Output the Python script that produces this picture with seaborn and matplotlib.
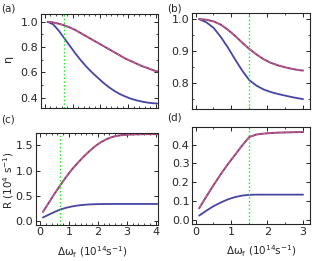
import numpy as np
import pandas as pd
import matplotlib
matplotlib.use('Agg')
import matplotlib.pyplot as plt
import seaborn as sns
from matplotlib.ticker import MultipleLocator, FormatStrFormatter

# panel (a) / (c) frequency grid
x_ac = [0.1, 0.3, 0.5, 0.7, 0.9, 1.1, 1.3, 1.5, 1.7, 1.9, 2.1, 2.3, 2.5, 2.7, 2.9, 3.1, 3.3, 3.5, 3.7, 3.9, 4.05]
eta_a_blue = [1.0, 0.98, 0.93, 0.87, 0.81, 0.75, 0.695, 0.645, 0.6, 0.56, 0.52, 0.485, 0.455, 0.43, 0.41, 0.393, 0.38, 0.37, 0.362, 0.357, 0.355]
eta_a_red = [1.0, 0.995, 0.985, 0.972, 0.955, 0.935, 0.91, 0.885, 0.86, 0.835, 0.81, 0.785, 0.76, 0.735, 0.71, 0.69, 0.67, 0.65, 0.635, 0.618, 0.608]
R_c_red = [0.18, 0.36, 0.54, 0.71, 0.87, 1.02, 1.15, 1.27, 1.38, 1.48, 1.56, 1.62, 1.665, 1.69, 1.705, 1.712, 1.716, 1.718, 1.72, 1.72, 1.72]
R_c_blue = [0.07, 0.125, 0.18, 0.228, 0.262, 0.288, 0.307, 0.32, 0.328, 0.333, 0.336, 0.337, 0.338, 0.338, 0.338, 0.338, 0.338, 0.338, 0.338, 0.338, 0.338]

# panel (b) / (d) frequency grid
x_bd = [0.1, 0.3, 0.5, 0.7, 0.9, 1.1, 1.3, 1.5, 1.7, 1.9, 2.1, 2.3, 2.5, 2.7, 2.9, 3.0]
eta_b_blue = [1.0, 0.99, 0.973, 0.945, 0.912, 0.875, 0.84, 0.81, 0.793, 0.781, 0.773, 0.767, 0.762, 0.757, 0.753, 0.751]
eta_b_red = [1.0, 0.998, 0.993, 0.983, 0.967, 0.948, 0.927, 0.907, 0.89, 0.875, 0.864, 0.856, 0.85, 0.845, 0.841, 0.84]
R_d_red = [0.063, 0.125, 0.185, 0.242, 0.296, 0.345, 0.395, 0.44, 0.453, 0.458, 0.461, 0.463, 0.464, 0.465, 0.466, 0.466]
R_d_blue = [0.024, 0.05, 0.074, 0.093, 0.11, 0.122, 0.13, 0.134, 0.135, 0.135, 0.135, 0.135, 0.135, 0.135, 0.135, 0.135]

marker_ac = 0.7
marker_bd = 1.5

sns.set_style('ticks')
plt.rcParams['font.family'] = ['DejaVu Sans']
fs = 8

fig = plt.figure(figsize=(3.13, 2.61), dpi=100)
ax_a = fig.add_axes([0.131, 0.586, 0.374, 0.360])
ax_b = fig.add_axes([0.614, 0.582, 0.376, 0.367])
ax_c = fig.add_axes([0.115, 0.139, 0.390, 0.350])
ax_d = fig.add_axes([0.614, 0.142, 0.376, 0.373])

blue = '#4646a2'
red = '#8e3a74'
red2 = '#c2628e'

def draw(ax, x, yb, yr, xm):
    df = pd.DataFrame({'x': x, 'blue': yb, 'red': yr})
    sns.lineplot(data=df, x='x', y='blue', ax=ax, color=blue, lw=1.3)
    sns.lineplot(data=df, x='x', y='red', ax=ax, color=red, lw=1.4)
    sns.lineplot(data=df, x='x', y='red', ax=ax, color=red2, lw=0.8, dashes=(3, 2), linestyle='--')
    ax.axvline(xm, color='#11ee11', lw=1.0, ls=':')
    ax.set_xlabel('')
    ax.set_ylabel('')
    ax.tick_params(which='both', direction='in', top=True, right=True, labelsize=fs, pad=2)
    ax.tick_params(which='major', length=3, width=0.7)
    ax.tick_params(which='minor', length=1.5, width=0.6)
    for sp in ax.spines.values():
        sp.set_linewidth(0.8)

draw(ax_a, x_ac, eta_a_blue, eta_a_red, marker_ac)
draw(ax_b, x_bd, eta_b_blue, eta_b_red, marker_bd)
draw(ax_c, x_ac, R_c_blue, R_c_red, marker_ac)
draw(ax_d, x_bd, R_d_blue, R_d_red, marker_bd)

for ax in (ax_a, ax_c):
    ax.set_xlim(-0.14, 4.08)
    ax.xaxis.set_major_locator(MultipleLocator(1))
    ax.xaxis.set_minor_locator(MultipleLocator(0.2))
for ax in (ax_b, ax_d):
    ax.set_xlim(-0.095, 3.19)
    ax.xaxis.set_major_locator(MultipleLocator(1))
    ax.xaxis.set_minor_locator(MultipleLocator(0.5))
ax_a.set_xticklabels([])
ax_b.set_xticklabels([])

ax_a.set_ylim(0.319, 1.061)
ax_a.yaxis.set_major_locator(MultipleLocator(0.2))
ax_a.yaxis.set_minor_locator(MultipleLocator(0.1))
ax_b.set_ylim(0.72, 1.018)
ax_b.yaxis.set_major_locator(MultipleLocator(0.1))
ax_b.yaxis.set_minor_locator(MultipleLocator(0.05))
ax_c.set_ylim(-0.073, 1.735)
ax_c.yaxis.set_major_locator(MultipleLocator(0.5))
ax_d.set_ylim(-0.02, 0.495)
ax_d.yaxis.set_major_locator(MultipleLocator(0.1))

for ax in (ax_a, ax_b, ax_c, ax_d):
    ax.yaxis.set_major_formatter(FormatStrFormatter('%.1f'))

fig.text(0.003, 0.985, '(a)', fontsize=7.5, va='top')
fig.text(0.535, 0.985, '(b)', fontsize=7.5, va='top')
fig.text(0.003, 0.56, '(c)', fontsize=7.5, va='top')
fig.text(0.535, 0.568, '(d)', fontsize=7.5, va='top')

fig.text(0.027, 0.775, 'η', fontsize=fs, rotation=90, ha='center', va='center')
fig.text(0.027, 0.31, 'R (10$^4$ s$^{-1}$)', fontsize=7.5, rotation=90, ha='center', va='center')
fig.text(0.296, 0.035, 'Δω$_{\\mathrm{f}}$ (10$^{14}$s$^{-1}$)', fontsize=7.5, ha='center', va='center')
fig.text(0.834, 0.037, 'Δω$_{\\mathrm{f}}$ (10$^{14}$s$^{-1}$)', fontsize=7.5, ha='center', va='center')

fig.savefig('out.png', dpi=100)
